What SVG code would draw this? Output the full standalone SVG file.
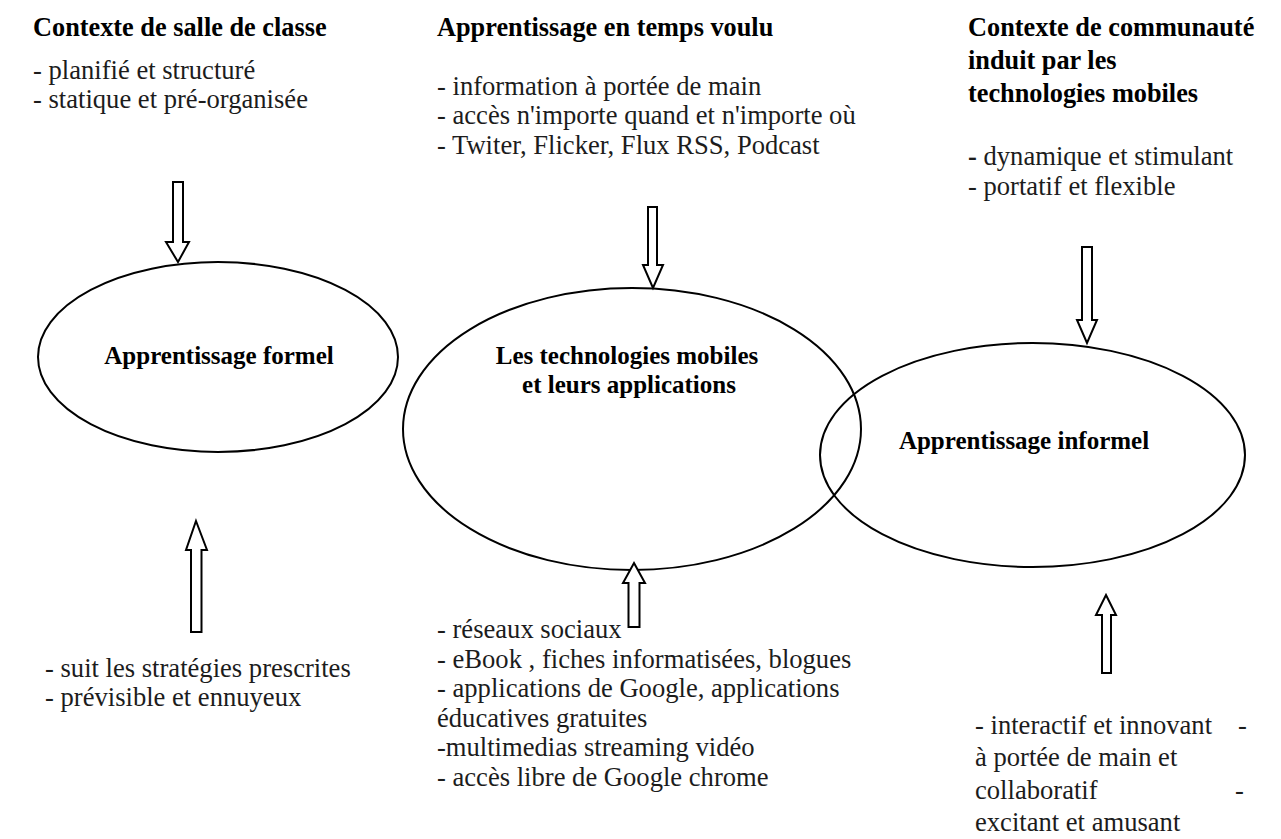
<svg xmlns="http://www.w3.org/2000/svg" width="1281" height="839" viewBox="0 0 1281 839">
  <style>
    .bg { fill: #ffffff; }
    .oval { fill: none; stroke: #000; stroke-width: 2; }
    .arrow { fill: #ffffff; stroke: #000; stroke-width: 2; stroke-linejoin: miter; }
    text { font-family: 'Liberation Serif', Tinos, 'Times New Roman', 'DejaVu Serif', serif; }
    .head { font-weight: bold; font-size: 26.3px; fill: #000; }
    .label { font-weight: bold; font-size: 25px; fill: #000; text-anchor: middle; }
    .item { font-size: 26.6px; fill: #1c1c1c; }
  </style>
  <rect class="bg" x="0" y="0" width="1281" height="839"/>

  <!-- context blocks above the ovals -->
  <g id="classroom-context">
    <text class="head" x="33" y="36">Contexte de salle de classe</text>
    <text class="item" x="33" y="78.5">- planifié et structuré</text>
    <text class="item" x="33" y="107.5">- statique et pré-organisée</text>
  </g>
  <g id="just-in-time">
    <text class="head" x="437" y="36">Apprentissage en temps voulu</text>
    <text class="item" x="437" y="94.5">- information à portée de main</text>
    <text class="item" x="437" y="123.5">- accès n'importe quand et n'importe où</text>
    <text class="item" x="437" y="153.5">- Twiter, Flicker, Flux RSS, Podcast</text>
  </g>
  <g id="community-context">
    <text class="head" x="968" y="36">Contexte de communauté</text>
    <text class="head" x="968" y="69">induit par les</text>
    <text class="head" x="968" y="102">technologies mobiles</text>
    <text class="item" x="968" y="165"><tspan font-weight="bold">-</tspan> dynamique et stimulant</text>
    <text class="item" x="968" y="195">- portatif et flexible</text>
  </g>

  <!-- the three overlapping ovals -->
  <g id="formal-learning">
    <ellipse class="oval" cx="218" cy="357" rx="180" ry="95"/>
    <text class="label" x="219" y="364">Apprentissage formel</text>
  </g>
  <g id="mobile-technologies">
    <ellipse class="oval" cx="632" cy="429" rx="229" ry="141"/>
    <text class="label" x="627" y="364">Les technologies mobiles</text>
    <text class="label" x="629" y="393">et leurs applications</text>
  </g>
  <g id="informal-learning">
    <ellipse class="oval" cx="1032.5" cy="455" rx="212.5" ry="112"/>
    <text class="label" x="1024" y="449">Apprentissage informel</text>
  </g>

  <!-- characteristics below the ovals -->
  <g id="formal-traits">
    <text class="item" x="45" y="677">- suit les stratégies prescrites</text>
    <text class="item" x="45" y="706">- prévisible et ennuyeux</text>
  </g>
  <g id="mobile-uses">
    <text class="item" x="437" y="638">- réseaux sociaux</text>
    <text class="item" x="437" y="667.5">- eBook , fiches informatisées, blogues</text>
    <text class="item" x="437" y="697">- applications de Google, applications</text>
    <text class="item" x="437" y="726.5">éducatives gratuites</text>
    <text class="item" x="437" y="756">-multimedias streaming vidéo</text>
    <text class="item" x="437" y="785.5">- accès libre de Google chrome</text>
  </g>
  <g id="informal-traits">
    <text class="item" y="733.5"><tspan x="975">- interactif et innovant</tspan><tspan x="1238">-</tspan></text>
    <text class="item" x="975" y="766">à portée de main et</text>
    <text class="item" y="798.5"><tspan x="975">collaboratif</tspan><tspan x="1235">-</tspan></text>
    <text class="item" x="975" y="830.5">excitant et amusant</text>
  </g>

  <!-- block arrows -->
  <g id="connectors">
    <path class="arrow" d="M173,182 H183 V242 H189 L178,262 L166,242 H173 Z"/>
    <path class="arrow" d="M196,521 L207,550 H201.5 V632 H191 V550 H186 Z"/>
    <path class="arrow" d="M648,207 H657 V265 H663 L653,288 L643,265 H648 Z"/>
    <path class="arrow" d="M634,563 L645,583 H639.5 V627 H628.5 V583 H623 Z"/>
    <path class="arrow" d="M1082,247 H1092 V320 H1097 L1087,343 L1077,320 H1082 Z"/>
    <path class="arrow" d="M1106,595 L1116,615 H1111 V673 H1102 V615 H1096 Z"/>
  </g>
</svg>
